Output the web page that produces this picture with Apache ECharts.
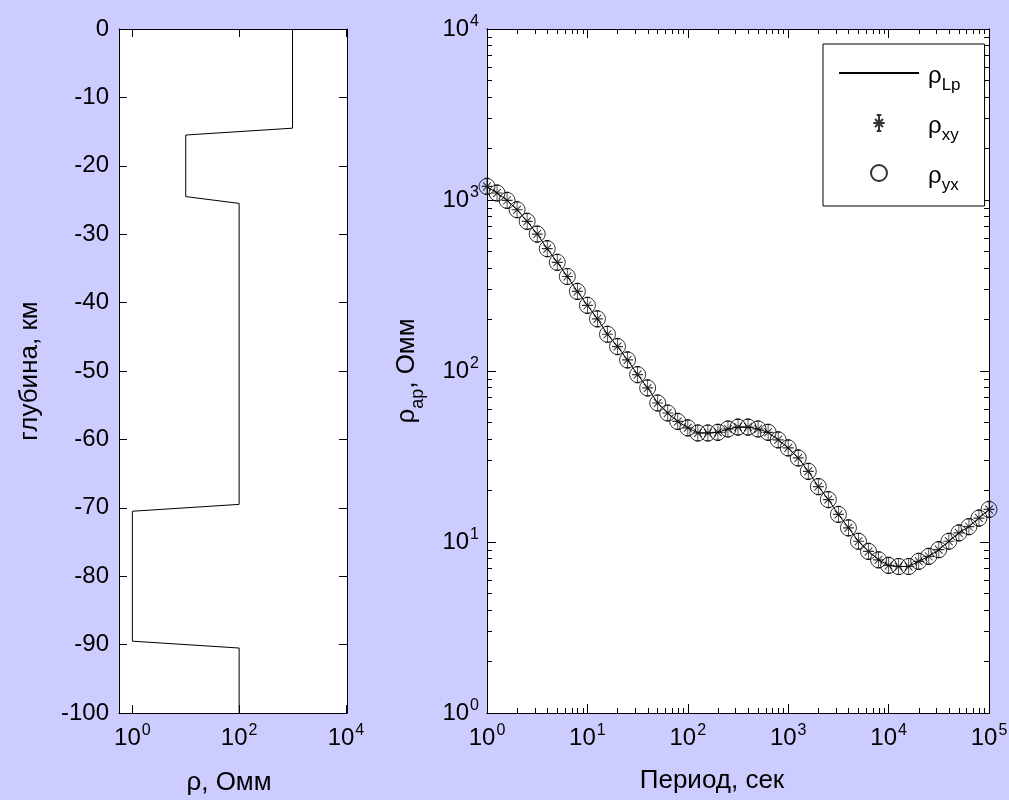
<!DOCTYPE html>
<html>
<head>
<meta charset="utf-8">
<script src="https://cdn.jsdelivr.net/npm/echarts@6/dist/echarts.min.js"></script>
<style>
  html, body { margin: 0; padding: 0; background: #ccccff; }
  #chart { width: 1009px; height: 800px; }
</style>
</head>
<body>
<div id="chart"></div>
<script>
// ---- Layered model: vertices of the resistivity profile ----
const modelDepth = [0, -14.5, -15.5, -24.5, -25.5, -69.5, -70.5, -89.5, -90.5, -100]; // km
const modelRho   = [1000, 1000, 10, 10, 100, 100, 1, 1, 100, 100];                    // Ohm·m

// ---- MT sounding: periods (s) and apparent resistivity (Ohm·m) ----
const periods = [
  1, 1.259, 1.585, 1.995, 2.512, 3.162, 3.981, 5.012, 6.310, 7.943,
  10, 12.59, 15.85, 19.95, 25.12, 31.62, 39.81, 50.12, 63.10, 79.43,
  100, 125.9, 158.5, 199.5, 251.2, 316.2, 398.1, 501.2, 631.0, 794.3,
  1000, 1259, 1585, 1995, 2512, 3162, 3981, 5012, 6310, 7943,
  10000, 12589, 15849, 19953, 25119, 31623, 39811, 50119, 63096, 79433,
  100000
];
const rhoApparent = [
  1200, 1099, 995, 877, 750, 632, 519, 432, 357, 292,
  242, 202, 164, 139, 116, 95.3, 79.6, 65.0, 56.8, 50.7,
  46.5, 43.4, 43.4, 43.8, 45.8, 47.0, 47.0, 45.8, 43.8, 39.6,
  35.5, 31.0, 25.9, 21.1, 17.7, 14.5, 12.1, 10.1, 8.81, 7.87,
  7.29, 7.19, 7.19, 7.71, 8.24, 9.02, 10.1, 11.3, 12.3, 13.8,
  15.5
];

// ---- Tick decades (exponents of 10) ----
const modelRhoDecades = [0, 2, 4];
const periodDecades   = [0, 1, 2, 3, 4, 5];
const rhoApDecades    = [0, 1, 2, 3, 4];

const FONT = '"Liberation Sans", Arial, Helvetica, sans-serif';
const BLACK = '#000';
const lg = Math.log10;

// minor log ticks 2..9 inside every decade
function minorTicks(decades) {
  const out = [];
  for (let i = 0; i < decades.length - 1; i++) {
    for (let k = 2; k <= 9; k++) out.push(decades[i] + lg(k));
  }
  return out;
}

const powRich = {
  b: { fontSize: 24, fontFamily: FONT, color: BLACK, lineHeight: 30 },
  s: { fontSize: 16, fontFamily: FONT, color: BLACK, lineHeight: 16, verticalAlign: 'top', padding: [0, 0, 0, 1] }
};
const powLabel = v => '{b|10}{s|' + Math.round(v) + '}';

function frameAxis(o) {
  const ax = {
    type: 'value',
    gridIndex: o.grid,
    position: o.pos,
    min: o.min,
    max: o.max,
    axisLine: { show: true, onZero: false, lineStyle: { color: BLACK, width: 1 } },
    axisTick: { show: true, inside: true, length: o.tickLen, lineStyle: { color: BLACK, width: 1 } },
    axisLabel: { show: false },
    splitLine: { show: false },
    axisPointer: { show: false }
  };
  if (o.ticks) ax.axisTick.customValues = o.ticks;
  if (o.interval) ax.interval = o.interval;
  if (o.label) ax.axisLabel = o.label;
  if (o.name) Object.assign(ax, o.name);
  return ax;
}

const titleStyle = { fontSize: 26, fontFamily: FONT, color: BLACK };

// xy estimate marker: asterisk with a short error bar
const asteriskPath = 'path://M0 8L10 8M5 3L5 13M1.5 4.5L8.5 11.5M1.5 11.5L8.5 4.5M5 1L5 15M3 1L7 1M3 15L7 15';

const chart = echarts.init(document.getElementById('chart'), null, { renderer: 'canvas' });

const option = {
  backgroundColor: '#ccccff',
  animation: false,
  textStyle: { fontFamily: FONT },
  grid: [
    { left: 119, top: 29, width: 228, height: 684, show: true, backgroundColor: '#fff', borderWidth: 0, outerBoundsMode: 'none', containLabel: false },
    { left: 487, top: 29, width: 502, height: 684, show: true, backgroundColor: '#fff', borderWidth: 0, outerBoundsMode: 'none', containLabel: false }
  ],
  xAxis: [
    frameAxis({
      grid: 0, pos: 'bottom', min: -0.25, max: 4.02, tickLen: 8, ticks: modelRhoDecades,
      label: { show: true, customValues: modelRhoDecades, formatter: powLabel, rich: powRich, margin: 10 },
      name: {
        name: 'ρ, Омм', nameLocation: 'middle', nameGap: 57,
        nameTextStyle: Object.assign({ padding: [0, 8, 0, 0] }, titleStyle)
      }
    }),
    frameAxis({ grid: 0, pos: 'top', min: -0.25, max: 4.02, tickLen: 8, ticks: modelRhoDecades }),
    frameAxis({
      grid: 1, pos: 'bottom', min: 0, max: 5, tickLen: 9, ticks: periodDecades,
      label: { show: true, customValues: periodDecades, formatter: powLabel, rich: powRich, margin: 10 },
      name: {
        name: 'Период, сек', nameLocation: 'middle', nameGap: 55,
        nameTextStyle: Object.assign({ padding: [0, 52, 0, 0] }, titleStyle)
      }
    }),
    frameAxis({ grid: 1, pos: 'top', min: 0, max: 5, tickLen: 9, ticks: periodDecades }),
    frameAxis({ grid: 1, pos: 'bottom', min: 0, max: 5, tickLen: 5, ticks: minorTicks(periodDecades) }),
    frameAxis({ grid: 1, pos: 'top', min: 0, max: 5, tickLen: 5, ticks: minorTicks(periodDecades) })
  ],
  yAxis: [
    frameAxis({
      grid: 0, pos: 'left', min: -100, max: 0, interval: 10, tickLen: 8,
      label: { show: true, fontSize: 24, fontFamily: FONT, color: BLACK, margin: 10 },
      name: {
        name: 'глубина, км', nameLocation: 'middle', nameGap: 76, nameRotate: 90,
        nameTextStyle: titleStyle
      }
    }),
    frameAxis({ grid: 0, pos: 'right', min: -100, max: 0, interval: 10, tickLen: 8 }),
    frameAxis({
      grid: 1, pos: 'left', min: 0, max: 4, tickLen: 9, ticks: rhoApDecades,
      label: { show: true, customValues: rhoApDecades, formatter: powLabel, rich: powRich, margin: 8 },
      name: {
        name: '{a|ρ}{b|ap}{a|, Омм}', nameLocation: 'middle', nameGap: 67, nameRotate: 90,
        nameTextStyle: Object.assign({
          rich: {
            a: { fontSize: 26, fontFamily: FONT, color: BLACK, lineHeight: 26 },
            b: { fontSize: 18, fontFamily: FONT, color: BLACK, lineHeight: 18, padding: [22, 0, 0, 0] }
          }
        }, titleStyle)
      }
    }),
    frameAxis({ grid: 1, pos: 'right', min: 0, max: 4, tickLen: 9, ticks: rhoApDecades }),
    frameAxis({ grid: 1, pos: 'left', min: 0, max: 4, tickLen: 5, ticks: minorTicks(rhoApDecades) }),
    frameAxis({ grid: 1, pos: 'right', min: 0, max: 4, tickLen: 5, ticks: minorTicks(rhoApDecades) })
  ],
  legend: {
    show: true,
    orient: 'vertical',
    left: 823,
    top: 44,
    data: [
      { name: 'ρLp', itemStyle: { color: 'rgba(0,0,0,0)', borderColor: 'rgba(0,0,0,0)', borderWidth: 0, opacity: 0 } },
      { name: 'ρxy' },
      { name: 'ρyx' }
    ],
    backgroundColor: '#fff',
    borderColor: BLACK,
    borderWidth: 1,
    borderRadius: 0,
    padding: [8, 24, 12, 15],
    itemGap: 8,
    itemWidth: 80,
    itemHeight: 16,
    selectedMode: false,
    formatter: name => '{r|ρ}{s|' + name.slice(1) + '}',
    textStyle: {
      fontFamily: FONT, color: BLACK,
      rich: {
        r: { fontSize: 24, fontFamily: FONT, color: BLACK, lineHeight: 24, padding: [6, 0, 0, 4] },
        s: { fontSize: 17, fontFamily: FONT, color: BLACK, lineHeight: 17, padding: [25, 0, 0, 0] }
      }
    }
  },
  series: [
    {
      name: 'model',
      type: 'line',
      xAxisIndex: 0, yAxisIndex: 0,
      data: modelRho.map((r, i) => [lg(r), modelDepth[i]]),
      symbol: 'none',
      lineStyle: { color: BLACK, width: 1 },
      silent: true
    },
    {
      name: 'ρLp',
      type: 'line',
      xAxisIndex: 2, yAxisIndex: 2,
      data: periods.map((t, i) => [lg(t), lg(rhoApparent[i])]),
      symbol: 'none',
      itemStyle: { color: BLACK },
      lineStyle: { color: BLACK, width: 1 },
      silent: true
    },
    {
      name: 'ρxy',
      type: 'scatter',
      xAxisIndex: 2, yAxisIndex: 2,
      data: periods.map((t, i) => [lg(t), lg(rhoApparent[i])]),
      symbol: asteriskPath,
      symbolSize: [11, 16],
      clip: false,
      itemStyle: { color: 'rgba(0,0,0,0)', borderColor: BLACK, borderWidth: 1 },
      silent: true
    },
    {
      name: 'ρyx',
      type: 'scatter',
      xAxisIndex: 2, yAxisIndex: 2,
      data: periods.map((t, i) => [lg(t), lg(rhoApparent[i])]),
      symbol: 'circle',
      symbolSize: 16,
      clip: false,
      itemStyle: { color: 'rgba(0,0,0,0)', borderColor: BLACK, borderWidth: 1 },
      silent: true
    }
  ]
};

chart.setOption(option);
</script>
</body>
</html>
